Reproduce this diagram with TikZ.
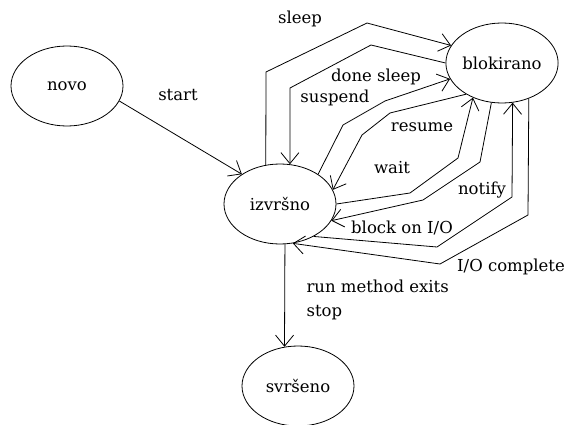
\documentclass[tikz,border=0pt]{standalone}
\usepackage{fontspec}
\setmainfont{DejaVu Serif}
\usetikzlibrary{shapes.geometric,arrows.meta}

\begin{document}
\begin{tikzpicture}[x=1pt, y=-1pt, font=\fontsize{16.5}{24}\selectfont,
    stanje/.style={draw, ellipse, minimum width=112pt, minimum height=80pt, inner sep=0pt, line width=.8pt},
    prelaz/.style={line width=.8pt, -{Straight Barb[length=11pt,width=18pt]}}]
\useasboundingbox (0, 0) rectangle (575, 425);
% stanja
\node[stanje] (novo) at (67, 86) {novo};
\node[stanje] (izvrsno) at (280, 204) {izvršno};
\node[stanje] (blokirano) at (502, 63) {blokirano};
\node[stanje] (svrseno) at (298, 386) {svršeno};
% prelazi
\draw[prelaz] (novo.-16) -- (izvrsno.142);
\draw[prelaz] (izvrsno.110) -- (266, 72) -- (367, 23) -- (blokirano.161);
\draw[prelaz] (blokirano.west) -- (371, 45) -- (290, 88) -- (izvrsno.76);
\draw[prelaz] (izvrsno.38) -- (343, 125) -- (385, 101) -- (blokirano.197);
\draw[prelaz] (blokirano.221) -- (390, 113) -- (362, 135) -- (izvrsno.15);
\draw[prelaz] (izvrsno.east) -- (410, 193) -- (458, 158) -- (blokirano.230);
\draw[prelaz] (blokirano.255) -- (480, 162) -- (423, 200) -- (izvrsno.-18);
\draw[prelaz] (izvrsno.-44) -- (437, 247) -- (512, 197) -- (blokirano.-75);
\draw[prelaz] (blokirano.-53) -- (528, 215) -- (440, 264) -- (izvrsno.-72);
\draw[prelaz] (izvrsno.-83) -- (svrseno.109);
% oznake
\node (lsleep) at (300, 19) {sleep};
\node (lstart) at (178, 95) {start};
\node (ldone) at (376, 77) {done sleep};
\node (lsuspend) at (335, 98) {suspend};
\node (lresume) at (422, 127) {resume};
\node (lwait) at (392, 168) {wait};
\node (lnotify) at (482, 190) {notify};
\node (lblock) at (402, 228) {block on I/O};
\node (lcomplete) at (511, 267) {I/O complete};
\node[align=left, anchor=west] (lexits) at (303, 300) {run method exits\\stop};
\end{tikzpicture}
\end{document}
